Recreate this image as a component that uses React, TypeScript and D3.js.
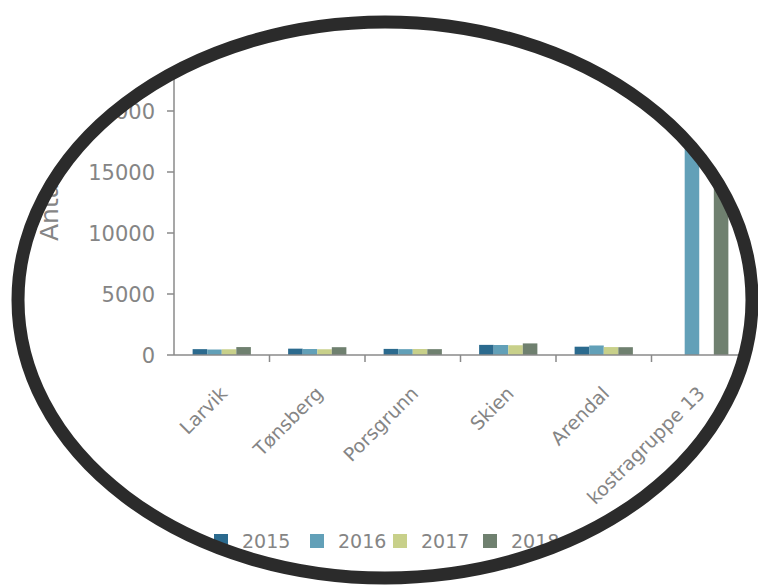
import React from "react";
import * as d3 from "d3";

const categories = ["Larvik", "Tønsberg", "Porsgrunn", "Skien", "Arendal", "kostragruppe 13"];
const years = ["2015", "2016", "2017", "2018"];
const values2015 = [480, 520, 500, 830, 680, null];
const values2016 = [450, 490, 480, 820, 780, 21500];
const values2017 = [470, 470, 490, 800, 650, null];
const values2018 = [650, 640, 480, 950, 640, 20500];
const yTicks = [0, 5000, 10000, 15000, 20000, 25000];
const colors = ["#2b6a8e", "#62a0b8", "#c8d08a", "#6f806f"];
const yLabel = "Antall";

const W = 758;
const H = 586;

export default function App() {
  const series = [values2015, values2016, values2017, values2018];
  const x0 = d3.scaleBand<string>().domain(categories).range([174, 747]).paddingInner(0.39).paddingOuter(0.195);
  const x1 = d3.scaleBand<string>().domain(years).range([0, x0.bandwidth()]).padding(0);
  const y = d3.scaleLinear().domain([0, 25000]).range([355, 50]);
  const step = x0.step();
  const font = "'DejaVu Sans', Verdana, sans-serif";
  const grey = "#858585";
  const axisCol = "#8a8a8a";
  const ecx = 385, ecy = 300, erx = 367, ery = 278;

  const legendX = [214, 310, 393, 483];

  return (
    <svg width={W} height={H} style={{ position: "absolute", left: 0, top: 0, background: "#fff" }}>
      <defs>
        <clipPath id="ell">
          <ellipse cx={ecx} cy={ecy} rx={erx} ry={ery} />
        </clipPath>
      </defs>
      <g clipPath="url(#ell)">
        {categories.map((c, i) => (
          <g key={c} transform={`translate(${x0(c)},0)`}>
            {years.map((yr, j) => {
              const v = series[j][i];
              if (v == null) return null;
              return (
                <rect key={yr} x={x1(yr)} y={y(v)} width={x1.bandwidth()} height={y(0) - y(v)} fill={colors[j]} />
              );
            })}
          </g>
        ))}
        <line x1={174} x2={174} y1={y(25000)} y2={y(0)} stroke={axisCol} strokeWidth={1.5} />
        {yTicks.map((t) => (
          <g key={t}>
            <line x1={167} x2={174} y1={y(t)} y2={y(t)} stroke={axisCol} strokeWidth={1.5} />
            <text x={155} y={y(t)} dy="0.36em" textAnchor="end" fontFamily={font} fontSize={21} fill={grey}>
              {t}
            </text>
          </g>
        ))}
        <line x1={174} x2={750} y1={y(0)} y2={y(0)} stroke={axisCol} strokeWidth={1.5} />
        {categories.map((c, i) => (
          <line key={c} x1={174 + step * (i + 1)} x2={174 + step * (i + 1)} y1={y(0)} y2={y(0) + 7} stroke={axisCol} strokeWidth={1.5} />
        ))}
        {categories.map((c) => {
          const cx = (x0(c) as number) + x0.bandwidth() / 2 + 2;
          return (
            <text key={c} transform={`translate(${cx},390) rotate(-45)`} textAnchor="end" dy="0.35em" fontFamily={font} fontSize={19} fill={grey}>
              {c}
            </text>
          );
        })}
        <text transform="translate(58,241) rotate(-90)" textAnchor="start" fontFamily={font} fontSize={25} fill={grey}>
          {yLabel}
        </text>
        {years.map((yr, j) => (
          <g key={yr}>
            <rect x={legendX[j]} y={534} width={14} height={14} fill={colors[j]} />
            <text x={legendX[j] + 28} y={548} fontFamily={font} fontSize={19} fill={grey}>
              {yr}
            </text>
          </g>
        ))}
      </g>
      <ellipse cx={ecx} cy={ecy} rx={erx} ry={ery} fill="none" stroke="#2b2b2b" strokeWidth={13} />
    </svg>
  );
}
